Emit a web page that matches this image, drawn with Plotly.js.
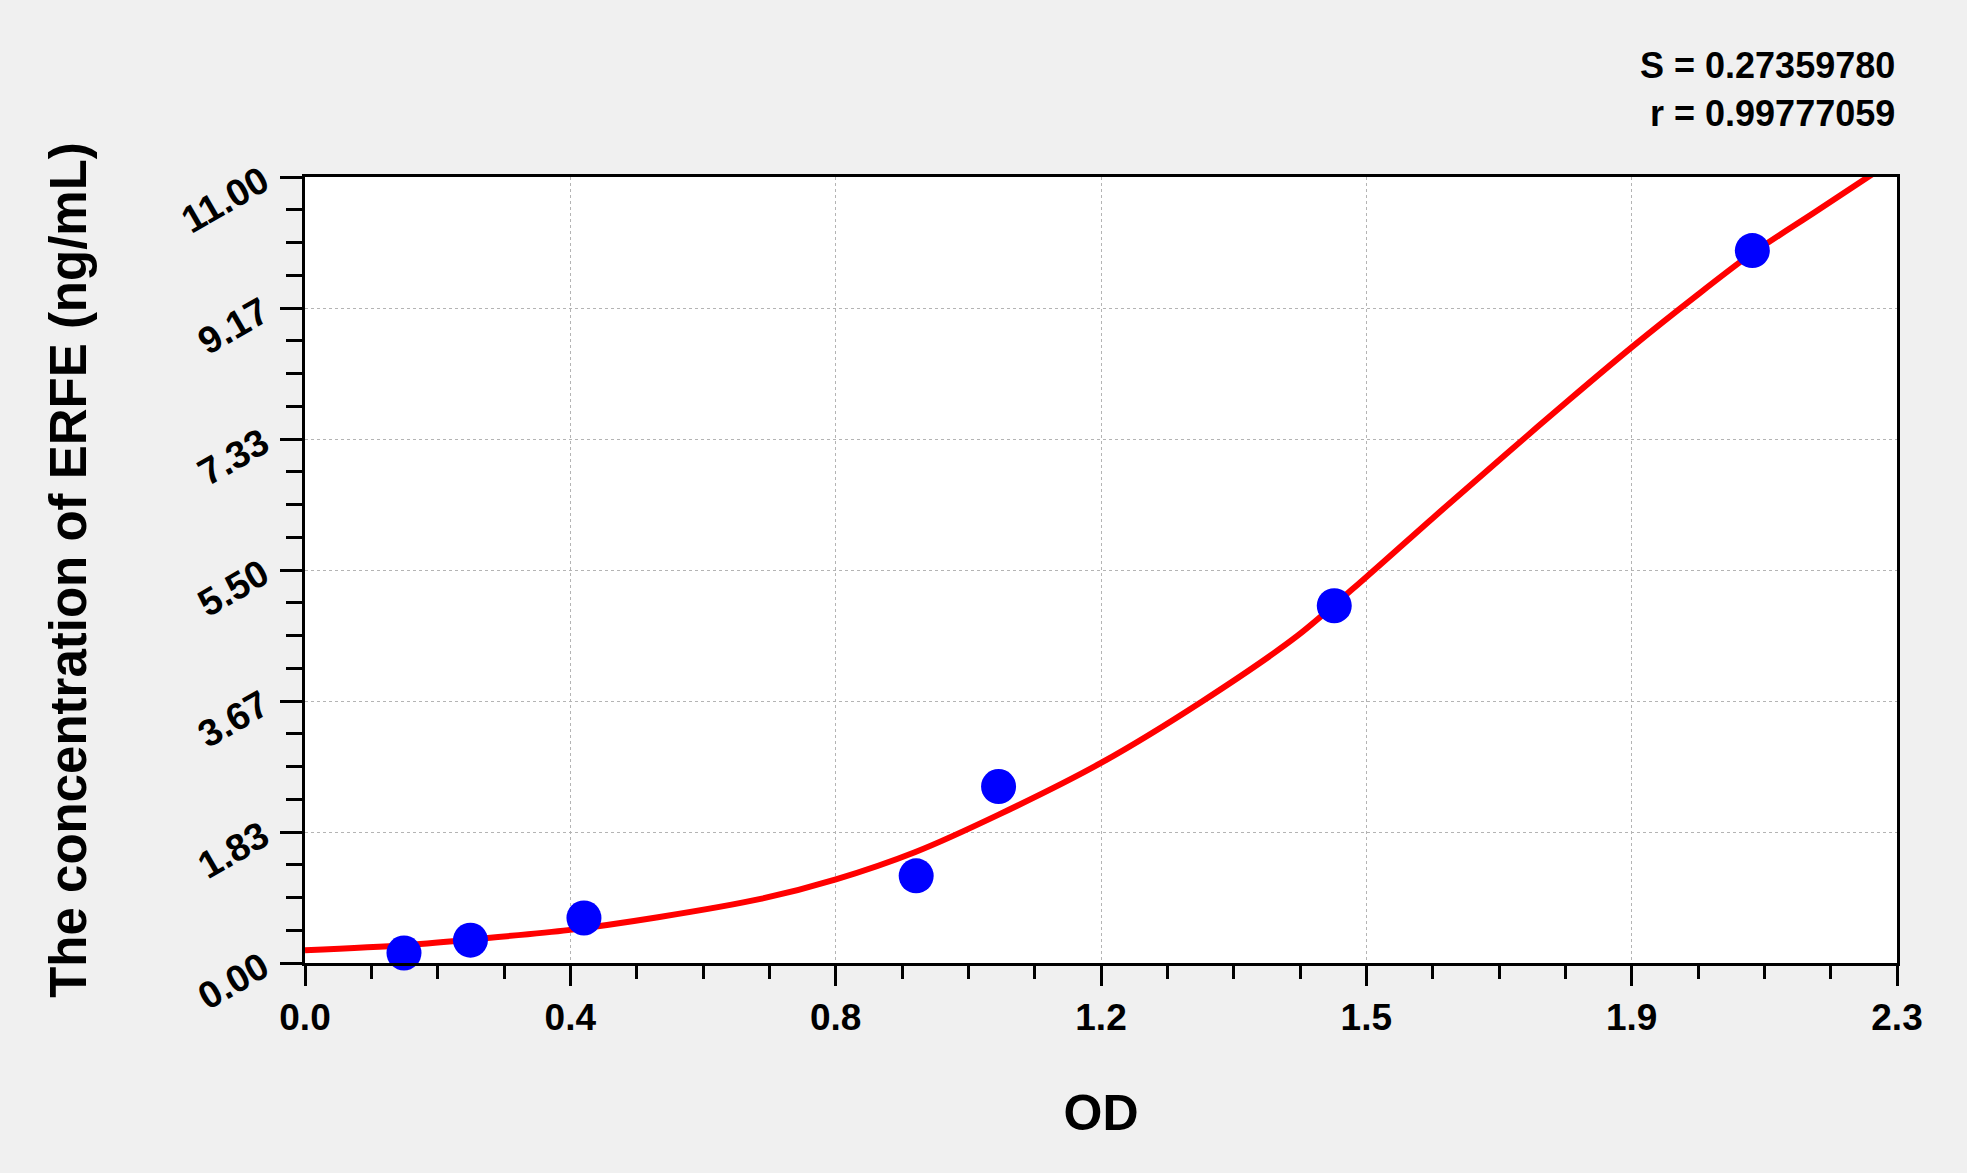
<!DOCTYPE html>
<html>
<head>
<meta charset="utf-8">
<script src="https://cdn.plot.ly/plotly-3.0.1.min.js"></script>
<style>
  html, body { margin: 0; padding: 0; background: #f0f0f0; }
  #chart { width: 1967px; height: 1173px; }
</style>
</head>
<body>
<div id="chart"></div>
<script>
// standards (OD vs concentration)
const odPoints = [0.143, 0.239, 0.403, 0.883, 1.002, 1.487, 2.091];
const concPoints = [0.14, 0.32, 0.63, 1.22, 2.47, 5.0, 9.97];

// fitted curve
const fitOd = [0, 0.143, 0.24, 0.38, 0.51, 0.66, 0.767, 0.881, 1.003, 1.15, 1.296,
               1.434, 1.533, 1.632, 1.735, 1.826, 1.917, 2.009, 2.089, 2.18, 2.266];
const fitConc = [0.18, 0.25, 0.33, 0.46, 0.64, 0.9, 1.17, 1.55, 2.08, 2.8, 3.66,
                 4.58, 5.4, 6.25, 7.12, 7.88, 8.62, 9.33, 9.92, 10.5, 11.05];

const xTickVals = [0, 0.38333, 0.76667, 1.15, 1.53333, 1.91667, 2.3];
const xTickText = ["0.0", "0.4", "0.8", "1.2", "1.5", "1.9", "2.3"];
const yTickVals = [0, 1.83333, 3.66667, 5.5, 7.33333, 9.16667, 11];
const yTickText = ["0.00", "1.83", "3.67", "5.50", "7.33", "9.17", "11.00"];

const fontFam = '"Liberation Sans", Arial, sans-serif';

const traces = [
    {
        x: fitOd,
        y: fitConc,
        type: 'scatter',
        mode: 'lines',
        line: {color: '#ff0000', width: 6, shape: 'spline', smoothing: 0.8},
        hoverinfo: 'skip'
    },
    {
        x: odPoints,
        y: concPoints,
        type: 'scatter',
        mode: 'markers',
        marker: {color: '#0000ff', size: 35},
        cliponaxis: false
    }
]

const layout = {
    width: 1967,
    height: 1173,
    showlegend: false,
    paper_bgcolor: '#f0f0f0',
    plot_bgcolor: '#ffffff',
    margin: {l: 305, r: 70, t: 177, b: 210},
    font: {family: fontFam, color: '#000'},
    xaxis: {
        range: [0, 2.3],
        tickmode: 'array',
        tickvals: xTickVals,
        ticktext: xTickText,
        ticks: 'outside',
        ticklen: 20,
        tickwidth: 3,
        tickcolor: '#000',
        ticklabelstandoff: 0,
        tickfont: {family: fontFam, size: 37, color: '#000', weight: 'bold'},
        minor: {tick0: 0, dtick: 2.3 / 24, ticks: 'outside', ticklen: 13, tickwidth: 3, tickcolor: '#000', showgrid: false},
        showgrid: true,
        gridcolor: '#b4b4b4',
        gridwidth: 1,
        griddash: '3px,3px',
        showline: true,
        linecolor: '#000',
        linewidth: 3,
        mirror: true,
        zeroline: false,
        title: {text: 'OD', font: {family: fontFam, size: 50, color: '#000', weight: 'bold'}, standoff: 58}
    },
    yaxis: {
        range: [0, 11],
        tickmode: 'array',
        tickvals: yTickVals,
        ticktext: yTickText,
        tickangle: -30,
        ticks: 'outside',
        ticklen: 22,
        tickwidth: 3,
        tickcolor: '#000',
        ticklabelstandoff: 10,
        tickfont: {family: fontFam, size: 38, color: '#000', weight: 'bold'},
        minor: {tick0: 0, dtick: 11 / 24, ticks: 'outside', ticklen: 16, tickwidth: 3, tickcolor: '#000', showgrid: false},
        showgrid: true,
        gridcolor: '#b4b4b4',
        gridwidth: 1,
        griddash: '3px,3px',
        showline: true,
        linecolor: '#000',
        linewidth: 3,
        mirror: true,
        zeroline: false,
        title: {text: 'The concentration of ERFE (ng/mL)', font: {family: fontFam, size: 51, color: '#000', weight: 'bold'}, standoff: 72}
    },
    annotations: [
        {
            text: 'S = 0.27359780',
            xref: 'paper', yref: 'paper',
            x: 1.0, y: 1.0, xanchor: 'right', yanchor: 'middle',
            yshift: 112,
            showarrow: false,
            font: {family: fontFam, size: 36, color: '#000', weight: 'bold'}
        },
        {
            text: 'r = 0.99777059',
            xref: 'paper', yref: 'paper',
            x: 1.0, y: 1.0, xanchor: 'right', yanchor: 'middle',
            yshift: 64,
            showarrow: false,
            font: {family: fontFam, size: 36, color: '#000', weight: 'bold'}
        }
    ]
}

Plotly.newPlot('chart', traces, layout, {displayModeBar: false, staticPlot: true})
</script>
</body>
</html>
